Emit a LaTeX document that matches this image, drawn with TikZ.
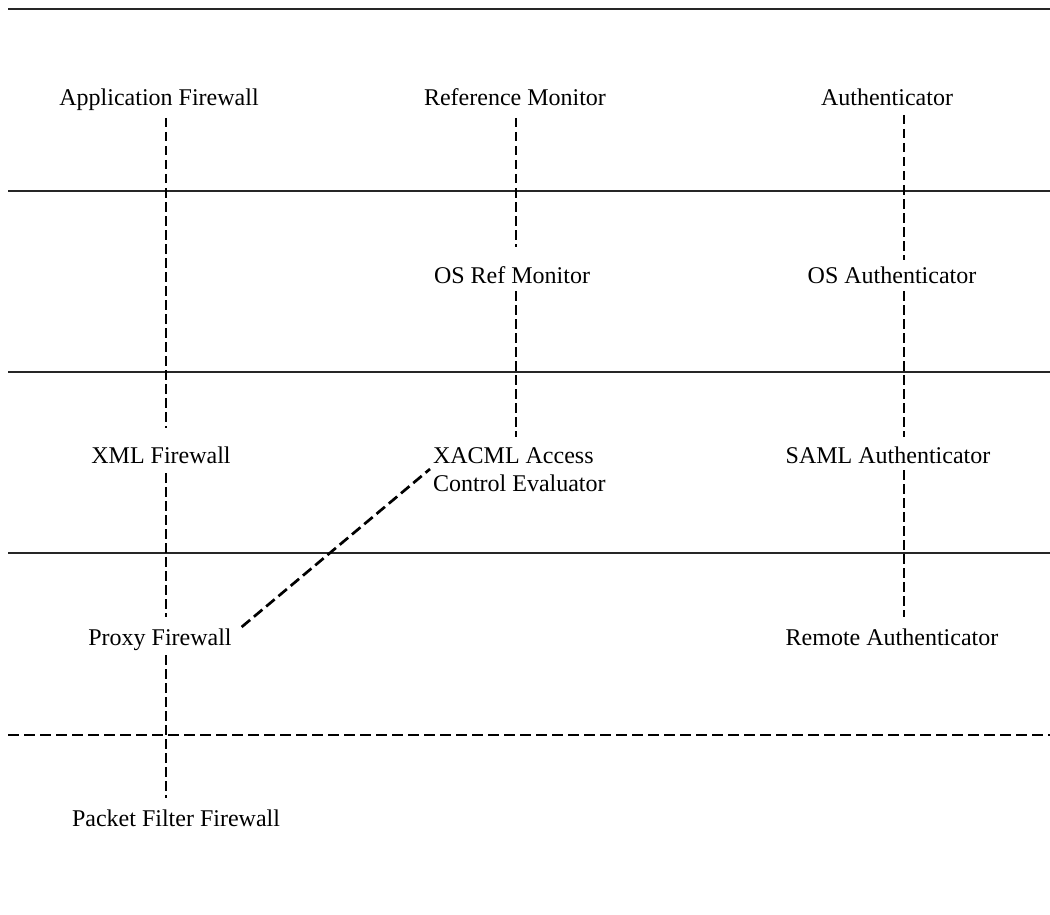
\documentclass[tikz,border=0pt]{standalone}
\usepackage{fontspec}
\setmainfont{Liberation Serif}
\usetikzlibrary{calc}
\begin{document}
\begin{tikzpicture}[x=1pt,y=-1pt,
  lbl/.style={inner sep=0pt, outer sep=0pt, anchor=base, text height=17pt, text depth=6pt,
              font=\fontsize{24}{28}\selectfont},
  layer/.style={line width=1.6pt, draw=black!85},
  vdash/.style={line width=2.7pt, dash pattern=on 9.5pt off 4.5pt},
  hdash/.style={line width=2.7pt, dash pattern=on 11pt off 5pt}]
\useasboundingbox (0,0) rectangle (1050,915);

% layer separators
\draw[layer] (8,9) -- (1050,9);
\draw[layer] (8,191) -- (1050,191);
\draw[layer] (8,372) -- (1050,372);
\draw[layer] (8,553) -- (1050,553);
\draw[hdash] (8,735) -- (1050,735);

% column axes
\coordinate (c1) at (166,0);
\coordinate (c2) at (516,0);
\coordinate (c3) at (904,0);

% labels
\node[lbl] (appfw)  at (159,106) {Application Firewall};
\node[lbl] (refmon) at (515,106) {Reference Monitor};
\node[lbl] (auth)   at (887,106) {Authenticator};
\node[lbl] (osref)  at (512,283) {OS Ref Monitor};
\node[lbl] (osauth) at (892,283) {OS Authenticator};
\node[lbl] (xmlfw)  at (161,463) {XML Firewall};
\node[inner sep=0pt, outer sep=0pt, anchor=north west, align=left,
      font=\fontsize{24}{28}\selectfont] (xacml) at (433,448) {XACML Access\\Control Evaluator};
\node[lbl] (saml)   at (888,463) {SAML Authenticator};
\node[lbl] (proxy)  at (160,645) {Proxy Firewall};
\node[lbl] (remote) at (892,645) {Remote Authenticator};
\node[lbl] (packet) at (176,826) {Packet Filter Firewall};

% column 1
\draw[vdash, shorten <=6pt, shorten >=18pt] (appfw.south -| c1) -- (xmlfw.north -| c1);
\draw[vdash, shorten <=4pt, shorten >=11pt] (xmlfw.south -| c1) -- (proxy.north -| c1);
\draw[vdash, shorten <=4pt, shorten >=11pt] (proxy.south -| c1) -- (packet.north -| c1);
% column 2
\draw[vdash, shorten <=6pt, shorten >=19pt] (refmon.south -| c2) -- (osref.north -| c2);
\draw[vdash, shorten <=2pt, shorten >=11pt] (osref.south -| c2) -- (xacml.north -| c2);
% column 3
\draw[vdash, shorten <=3pt, shorten >=6pt] (auth.south -| c3) -- (osauth.north -| c3);
\draw[vdash, shorten <=2pt, shorten >=9pt] (osauth.south -| c3) -- (saml.north -| c3);
\draw[vdash, shorten <=1pt, shorten >=11pt] (saml.south -| c3) -- (remote.north -| c3);
% diagonal
\draw[hdash] ($(proxy.base east)+(10,-18)$) -- ($(xacml.north west)+(-3,21)$);
\end{tikzpicture}
\end{document}
